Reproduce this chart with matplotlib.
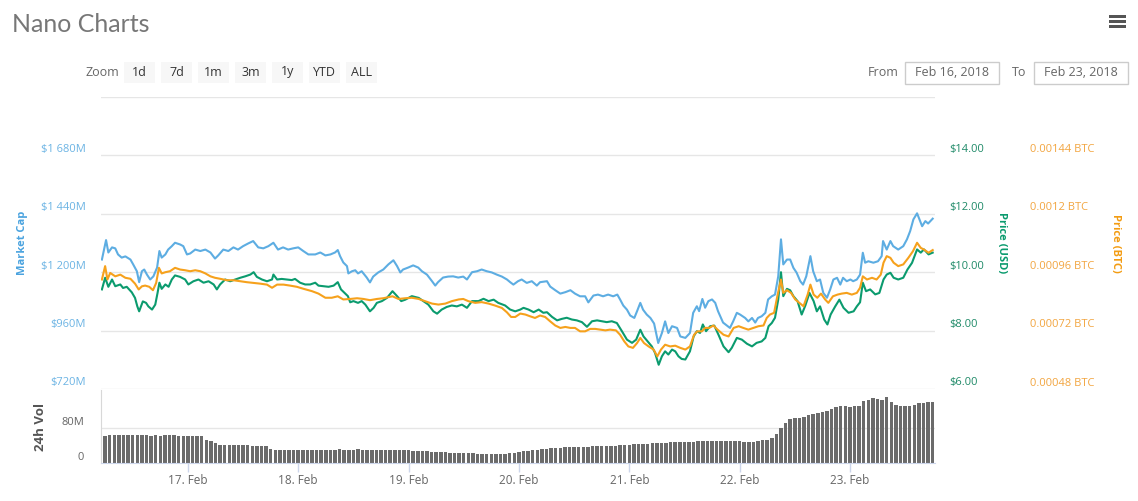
import matplotlib
matplotlib.use("Agg")
import matplotlib.pyplot as plt
from matplotlib.patches import Rectangle
from matplotlib.transforms import offset_copy
import numpy as np

plt.rcParams['font.family'] = ['Open Sans', 'DejaVu Sans']

# ---------------------------------------------------------------------------
# Data (hours since 2018-02-16 00:00)
# ---------------------------------------------------------------------------
MCAP = [  # market cap, $M
    (5.3, 1252), (6.2, 1332), (6.7, 1281), (7.5, 1302), (8.2, 1298), (8.8, 1273),
    (9.6, 1260), (10.4, 1265), (11.5, 1252), (12.1, 1232), (12.9, 1204), (13.4, 1159),
    (14.0, 1204), (14.5, 1211), (15.1, 1190), (15.8, 1170), (16.5, 1183), (17.3, 1219),
    (17.8, 1287), (18.3, 1260), (19.1, 1273), (19.7, 1293), (20.5, 1307), (21.2, 1321),
    (22.3, 1314), (23.0, 1307), (23.8, 1273), (24.5, 1277), (25.6, 1293), (26.7, 1287),
    (27.8, 1293), (28.9, 1281), (29.9, 1256), (30.6, 1269), (31.7, 1293), (32.8, 1287),
    (33.9, 1302), (34.9, 1293), (36.0, 1307), (37.1, 1318), (38.2, 1328), (39.3, 1302),
    (40.4, 1298), (41.5, 1307), (42.6, 1321), (43.6, 1293), (44.7, 1302), (45.8, 1293),
    (46.9, 1298), (48.0, 1302), (49.1, 1287), (50.2, 1273), (51.7, 1273), (52.8, 1281),
    (53.9, 1269), (55.0, 1273), (56.0, 1281), (56.6, 1291), (57.1, 1266), (57.8, 1240),
    (58.6, 1225), (58.9, 1195), (59.7, 1204), (60.4, 1208), (61.0, 1195), (61.8, 1204),
    (62.9, 1178), (63.6, 1158), (64.3, 1182), (65.4, 1199), (66.5, 1211), (67.6, 1232),
    (68.7, 1249), (69.5, 1225), (70.2, 1199), (70.8, 1211), (71.9, 1219), (73.0, 1228),
    (74.1, 1219), (74.9, 1204), (76.0, 1190), (77.1, 1163), (77.8, 1145), (78.4, 1159),
    (79.5, 1178), (80.6, 1182), (81.7, 1183), (82.8, 1178), (83.9, 1182), (84.7, 1170),
    (85.8, 1200), (86.9, 1204), (87.9, 1211), (89.0, 1204), (90.1, 1199), (91.2, 1190),
    (92.3, 1182), (93.4, 1170), (94.1, 1159), (94.8, 1149), (95.8, 1163), (96.6, 1170),
    (97.7, 1156), (98.8, 1163), (99.9, 1145), (100.6, 1159), (102.1, 1163), (102.8, 1141),
    (103.9, 1126), (105.0, 1112), (106.1, 1118), (107.2, 1126), (108.2, 1112), (109.3, 1101),
    (110.4, 1101), (111.1, 1076), (112.2, 1104), (113.2, 1108), (114.3, 1101), (115.4, 1108),
    (116.5, 1101), (117.4, 1108), (118.0, 1088), (118.7, 1063), (119.5, 1046), (120.2, 1022),
    (121.1, 1012), (121.7, 1040), (122.4, 1074), (123.0, 1046), (123.8, 1026), (124.6, 1012),
    (125.4, 989), (126.3, 909), (127.1, 950), (127.8, 998), (128.5, 950), (129.3, 978),
    (130.4, 971), (131.1, 936), (132.2, 930), (133.2, 950), (133.9, 1033), (134.7, 1060),
    (135.2, 1040), (135.9, 1090), (136.5, 1054), (137.2, 1081), (138.0, 1088), (138.7, 1074),
    (139.3, 1040), (140.4, 993), (141.2, 981), (141.9, 971), (142.6, 998), (143.4, 1033),
    (144.1, 1026), (145.2, 1012), (145.9, 998), (146.7, 1012), (147.4, 993), (148.0, 1012),
    (148.8, 1019), (149.6, 1033), (150.2, 1088), (151.0, 1101), (151.7, 1108), (152.4, 1183),
    (153.0, 1335), (153.5, 1232), (154.3, 1252), (155.0, 1252), (155.7, 1218), (156.4, 1198),
    (157.2, 1163), (157.8, 1149), (158.5, 1183), (159.4, 1266), (160.0, 1204), (160.8, 1163),
    (161.5, 1170), (162.2, 1115), (163.0, 1095), (163.7, 1129), (164.4, 1170), (165.2, 1177),
    (165.9, 1149), (166.5, 1177), (167.3, 1163), (168.1, 1170), (168.7, 1163), (169.5, 1170),
    (170.2, 1190), (170.8, 1280), (171.3, 1239), (172.0, 1245), (173.1, 1239), (174.1, 1245),
    (174.9, 1266), (175.2, 1328), (176.0, 1293), (176.8, 1328), (177.4, 1307), (178.5, 1293),
    (179.6, 1307), (180.4, 1335), (181.1, 1369), (181.8, 1417), (182.6, 1442), (183.7, 1389),
    (184.4, 1410), (185.0, 1400), (186.0, 1420),
]

PRICE_USD = [
    (5.3, 9.41), (6.0, 9.81), (6.7, 9.50), (7.5, 9.75), (8.2, 9.52), (9.3, 9.58), (9.9, 9.46),
    (10.7, 9.50), (11.8, 9.31), (12.5, 9.12), (13.0, 8.83), (13.4, 8.66), (14.2, 9.00),
    (14.9, 8.95), (15.4, 8.83), (16.2, 8.72), (16.9, 8.89), (17.4, 9.29), (17.8, 9.64),
    (18.3, 9.43), (19.1, 9.58), (19.8, 9.50), (20.5, 9.75), (21.2, 9.89), (22.3, 9.84),
    (23.4, 9.75), (24.1, 9.58), (25.2, 9.69), (26.3, 9.75), (27.4, 9.64), (28.5, 9.69),
    (29.6, 9.58), (30.3, 9.41), (31.0, 9.58), (32.1, 9.75), (33.2, 9.69), (34.3, 9.75),
    (35.4, 9.81), (36.5, 9.86), (37.6, 9.92), (38.3, 10.00), (39.0, 9.84), (40.1, 9.75),
    (41.2, 9.69), (42.3, 9.75), (42.6, 9.92), (43.4, 9.75), (44.4, 9.77), (45.5, 9.75),
    (46.6, 9.73), (47.3, 9.77), (48.4, 9.64), (49.5, 9.58), (50.6, 9.58), (51.7, 9.64),
    (52.4, 9.54), (53.5, 9.52), (54.6, 9.50), (55.7, 9.54), (56.6, 9.66), (57.3, 9.41),
    (58.1, 9.29), (58.8, 9.18), (59.3, 8.97), (60.0, 9.01), (61.0, 8.95), (61.8, 9.01),
    (62.6, 8.89), (63.6, 8.66), (64.4, 8.78), (65.1, 8.95), (66.2, 9.01), (67.3, 9.12),
    (68.5, 9.35), (69.5, 9.18), (70.4, 9.01), (71.3, 9.06), (72.7, 9.18), (74.2, 9.12),
    (75.2, 9.01), (76.3, 8.89), (77.4, 8.66), (78.2, 8.58), (79.2, 8.72), (80.3, 8.81),
    (81.4, 8.86), (82.5, 8.83), (83.6, 8.89), (84.7, 8.78), (85.8, 9.01), (87.2, 9.01),
    (88.3, 9.09), (89.4, 9.01), (90.5, 9.06), (91.5, 8.95), (93.0, 8.86), (94.1, 8.72),
    (95.2, 8.66), (96.3, 8.72), (97.0, 8.78), (98.1, 8.72), (99.2, 8.63), (100.3, 8.72),
    (101.3, 8.61), (102.1, 8.63), (103.2, 8.47), (104.3, 8.35), (105.3, 8.40), (106.4, 8.44),
    (107.5, 8.38), (108.6, 8.35), (109.7, 8.29), (110.8, 8.13), (111.9, 8.32), (113.0, 8.35),
    (114.0, 8.32), (115.1, 8.29), (116.2, 8.32), (117.3, 8.26), (118.4, 7.98), (119.5, 7.69),
    (120.6, 7.58), (121.5, 7.69), (122.4, 8.03), (123.1, 7.80), (124.0, 7.63), (124.9, 7.46),
    (125.6, 7.24), (126.4, 6.83), (127.1, 7.12), (127.8, 7.29), (128.5, 7.18), (129.3, 7.35),
    (130.0, 7.29), (130.7, 7.12), (131.4, 7.03), (132.2, 7.01), (133.2, 7.29), (134.0, 7.80),
    (134.7, 7.98), (135.4, 7.92), (136.0, 8.21), (136.7, 7.98), (137.6, 8.15), (138.5, 8.17),
    (139.4, 7.86), (140.5, 7.46), (141.6, 7.26), (142.3, 7.41), (143.4, 7.75), (144.5, 7.69),
    (145.6, 7.55), (146.7, 7.46), (147.7, 7.58), (148.8, 7.63), (149.6, 7.75), (150.3, 8.15),
    (151.0, 8.26), (151.7, 8.44), (152.4, 9.06), (153.0, 10.00), (153.5, 9.18), (154.3, 9.43),
    (155.0, 9.38), (155.7, 9.18), (156.6, 9.01), (157.5, 8.55), (158.3, 8.86), (159.2, 9.29),
    (160.1, 9.01), (160.8, 8.66), (161.5, 8.83), (162.4, 8.38), (163.1, 8.21), (163.8, 8.55),
    (164.8, 8.83), (165.7, 9.06), (166.6, 8.78), (167.7, 8.61), (168.8, 8.66), (169.5, 8.83),
    (170.2, 8.97), (170.8, 9.64), (171.5, 9.35), (172.4, 9.41), (173.5, 9.24), (174.4, 9.29),
    (175.3, 9.75), (176.0, 9.92), (176.8, 9.98), (177.5, 9.81), (178.5, 9.75), (179.6, 9.81),
    (180.5, 10.09), (181.5, 10.32), (182.6, 10.78), (183.4, 10.67), (184.1, 10.78),
    (185.1, 10.61), (186.0, 10.67),
]

PRICE_BTC = [
    (5.3, 0.000930), (6.0, 0.000985), (6.5, 0.000930), (7.1, 0.000957), (8.2, 0.000943),
    (9.3, 0.000950), (10.4, 0.000937), (11.5, 0.000933), (12.5, 0.000913), (13.3, 0.000889),
    (14.0, 0.000902), (14.7, 0.000905), (15.6, 0.000900), (16.4, 0.000886), (17.1, 0.000916),
    (17.7, 0.000978), (18.3, 0.000955), (19.1, 0.000960), (20.1, 0.000964), (21.2, 0.000978),
    (22.3, 0.000971), (23.4, 0.000968), (24.5, 0.000964), (25.6, 0.000968), (26.7, 0.000964),
    (27.8, 0.000955), (28.9, 0.000943), (29.9, 0.000937), (31.0, 0.000933), (32.5, 0.000927),
    (33.9, 0.000927), (35.4, 0.000923), (36.8, 0.000919), (38.3, 0.000916), (39.7, 0.000913),
    (41.2, 0.000909), (42.3, 0.000896), (43.4, 0.000909), (44.8, 0.000909), (46.2, 0.000905),
    (47.7, 0.000900), (49.1, 0.000892), (51.0, 0.000882), (52.4, 0.000872), (53.9, 0.000855),
    (55.3, 0.000855), (56.6, 0.000861), (57.8, 0.000848), (59.3, 0.000850), (60.8, 0.000853),
    (62.2, 0.000850), (63.6, 0.000845), (65.1, 0.000850), (66.5, 0.000853), (68.5, 0.000861),
    (69.8, 0.000850), (71.3, 0.000853), (72.7, 0.000855), (74.2, 0.000850), (75.6, 0.000841),
    (77.1, 0.000831), (78.5, 0.000827), (80.0, 0.000831), (81.4, 0.000841), (82.9, 0.000848),
    (83.9, 0.000850), (85.0, 0.000841), (86.5, 0.000834), (87.9, 0.000837), (89.4, 0.000831),
    (90.8, 0.000823), (92.3, 0.000813), (93.4, 0.000795), (94.3, 0.000776), (95.2, 0.000776),
    (96.3, 0.000790), (97.4, 0.000786), (98.4, 0.000779), (99.5, 0.000772), (100.6, 0.000782),
    (101.7, 0.000776), (102.8, 0.000758), (103.9, 0.000741), (105.0, 0.000731), (106.1, 0.000735),
    (107.2, 0.000731), (108.2, 0.000731), (109.3, 0.000717), (110.4, 0.000717), (111.5, 0.000727),
    (112.6, 0.000727), (113.7, 0.000724), (114.8, 0.000721), (115.8, 0.000724), (117.1, 0.000721),
    (118.0, 0.000703), (118.9, 0.000676), (119.8, 0.000655), (120.8, 0.000649), (121.7, 0.000669),
    (122.4, 0.000690), (123.2, 0.000669), (124.2, 0.000655), (125.3, 0.000642), (126.1, 0.000614),
    (126.9, 0.000642), (127.8, 0.000662), (128.9, 0.000655), (130.0, 0.000658), (131.1, 0.000649),
    (132.2, 0.000642), (133.2, 0.000655), (134.1, 0.000703), (134.8, 0.000717), (135.8, 0.000717),
    (136.5, 0.000731), (137.4, 0.000731), (138.3, 0.000741), (139.2, 0.000724), (140.5, 0.000703),
    (141.6, 0.000696), (142.7, 0.000731), (143.8, 0.000738), (144.8, 0.000731), (145.9, 0.000724),
    (147.0, 0.000731), (148.1, 0.000738), (149.2, 0.000741), (149.9, 0.000772), (150.6, 0.000786),
    (151.5, 0.000793), (152.2, 0.000861), (153.0, 0.000930), (153.5, 0.000875), (154.3, 0.000886),
    (155.2, 0.000875), (156.1, 0.000848), (157.0, 0.000834), (157.9, 0.000820), (158.8, 0.000868),
    (159.4, 0.000909), (160.1, 0.000868), (160.9, 0.000855), (161.7, 0.000872), (162.6, 0.000848),
    (163.3, 0.000834), (164.3, 0.000861), (165.3, 0.000868), (166.2, 0.000872), (167.3, 0.000875),
    (168.4, 0.000868), (169.5, 0.000875), (170.2, 0.000896), (170.8, 0.000943), (171.7, 0.000930),
    (172.8, 0.000937), (173.8, 0.000930), (174.7, 0.000950), (175.3, 0.000999), (176.0, 0.001026),
    (176.8, 0.001019), (177.5, 0.000999), (178.5, 0.000985), (179.6, 0.000992), (180.7, 0.001019),
    (181.7, 0.001046), (182.6, 0.001081), (183.4, 0.001060), (184.1, 0.001053), (185.1, 0.001040),
    (186.0, 0.001051),
]

# 24h volume ($M), one bar per hour from hour 5 to hour 186
VOL_START_HOUR = 5
VOLUME = [
    59, 62,
    64, 65, 65, 64, 64, 65, 63, 64, 63, 62, 63, 62, 63, 63, 63, 62, 62, 62, 61, 62, 61,
    52, 50, 46,
    42, 42, 41, 41, 41, 41, 41, 40, 40, 39, 38,
    31, 30, 30, 30, 30, 29, 30, 30, 30, 30, 29, 30, 30, 30, 30, 31, 30, 30, 30, 31, 30, 30,
    30, 30, 30, 30, 30, 30, 29,
    29, 29, 28, 28, 27, 27, 26, 26, 25, 25, 24, 24, 23, 23, 22, 22, 21, 21, 21, 20, 20, 21,
    20, 22, 24, 26,
    27, 28, 29, 30,
    32, 33, 34,
    35, 35, 36, 36, 36, 37, 37,
    37, 38, 38, 39, 39, 40, 40, 41, 41, 42, 43,
    43, 44, 44, 45, 45, 46, 46, 47, 47, 48, 48, 49, 49, 50,
    50, 50, 51, 51, 51, 51, 50, 50, 50, 49, 49,
    49, 50, 52, 53, 58,
    66, 80, 92, 100, 102, 103, 105, 109, 112, 114, 116, 119, 123, 127, 130, 130, 129, 130,
    131, 141, 145, 148, 147, 143, 152, 140, 133, 130, 130, 130, 132, 137, 138, 139, 140,
]

DAY_TICKS = [24, 48, 72, 96, 120, 144, 168]
DAY_LABELS = ['17. Feb', '18. Feb', '19. Feb', '20. Feb', '21. Feb', '22. Feb', '23. Feb']

MCAP_TICKS = [720, 960, 1200, 1440, 1680]
USD_TICKS = [6, 8, 10, 12, 14]
BTC_TICKS = [0.00048, 0.00072, 0.00096, 0.0012, 0.00144]
VOL_TICKS = [0, 80]
VOL_LABELS = ['0', '80M']

ZOOM_BUTTONS = ['1d', '7d', '1m', '3m', '1y', 'YTD', 'ALL']
DATE_FROM = 'Feb 16, 2018'
DATE_TO = 'Feb 23, 2018'

# ---------------------------------------------------------------------------
# Style
# ---------------------------------------------------------------------------
W, H = 1138, 501
BLUE = '#5dade2'
GREEN = '#0b9b6e'
ORANGE = '#f6a11c'
GRID = '#e6e6e6'
XMIN, XMAX = 5.1, 186.5


def fx(x):
    return x / W


def fy(y):
    return 1 - y / H


fig = plt.figure(figsize=(W / 100, H / 100), dpi=100)

# ---------------------------------------------------------------------------
# Price panel
# ---------------------------------------------------------------------------
ax = fig.add_axes([fx(101), fy(389), fx(935) - fx(101), fy(97) - fy(389)])
ax_usd = ax.twinx()
ax_btc = ax.twinx()

ax.set_ylim(720, 1920)
ax_usd.set_ylim(6, 16)
ax_btc.set_ylim(0.00048, 0.00168)

for a in (ax, ax_usd, ax_btc):
    a.set_xlim(XMIN, XMAX)
    for s in a.spines.values():
        s.set_visible(False)
    a.set_xticks([])
    a.set_yticks([])

for v in MCAP_TICKS + [1920]:
    ax.axhline(v, color=GRID, lw=1, zorder=0)

mh, mv = zip(*MCAP)
uh, uv = zip(*PRICE_USD)
bh, bv = zip(*PRICE_BTC)
ax.plot(mh, mv, color=BLUE, lw=1.5, solid_joinstyle='round')
ax_usd.plot(uh, uv, color=GREEN, lw=1.5, solid_joinstyle='round')
ax_btc.plot(bh, bv, color=ORANGE, lw=1.5, solid_joinstyle='round')

tick_kw = dict(fontsize=8, va='center')
tr = offset_copy(ax.get_yaxis_transform(), fig=fig, x=-15, y=6, units='dots')
for v in MCAP_TICKS:
    ax.text(0, v, f"${v:,}M".replace(',', ' '), transform=tr, ha='right',
            color='#6cb4e4', **tick_kw)
tr = offset_copy(ax_usd.get_yaxis_transform(), fig=fig, x=14, y=6, units='dots')
for v in USD_TICKS:
    ax_usd.text(1, v, f"${v:.2f}", transform=tr, ha='left', color='#1f8a68', **tick_kw)
tr = offset_copy(ax_btc.get_yaxis_transform(), fig=fig, x=95, y=6, units='dots')
for v in BTC_TICKS:
    ax_btc.text(1, v, f"{v:g} BTC", transform=tr, ha='left', color='#f2a540', **tick_kw)

fig.text(fx(22), fy(243), 'Market Cap', rotation=90, ha='center', va='center',
         fontsize=8, fontweight='bold', color='#4aa3df')
fig.text(fx(1002), fy(243), 'Price (USD)', rotation=270, ha='center', va='center',
         fontsize=8, fontweight='bold', color=GREEN)
fig.text(fx(1115), fy(243), 'Price (BTC)', rotation=270, ha='center', va='center',
         fontsize=8, fontweight='bold', color='#f39c12')

# ---------------------------------------------------------------------------
# Volume panel
# ---------------------------------------------------------------------------
av = fig.add_axes([fx(101), fy(463), fx(935) - fx(101), fy(390) - fy(463)])
vol_hours = np.arange(VOL_START_HOUR, VOL_START_HOUR + len(VOLUME))
av.bar(vol_hours, VOLUME, width=0.76, color='#6b6b6b', zorder=2)
av.set_xlim(XMIN, XMAX)
av.set_ylim(0, 167)
av.axhline(80, color=GRID, lw=1, zorder=0)
for s in ('top', 'right'):
    av.spines[s].set_visible(False)
av.spines['bottom'].set_color('#ccd6eb')
av.spines['left'].set_color('#d8d8d8')
av.set_yticks([])
av.set_xticks(DAY_TICKS)
av.set_xticklabels(DAY_LABELS)
av.tick_params(axis='x', length=6.8, width=1, color='#ccd6eb', labelcolor='#666666',
               labelsize=8.5, pad=1)

tr = offset_copy(av.get_yaxis_transform(), fig=fig, x=-17, y=6, units='dots')
for v, lab in zip(VOL_TICKS, VOL_LABELS):
    av.text(0, v, lab, transform=tr, ha='right', va='center', fontsize=8, color='#666666')
fig.text(fx(40), fy(427), '24h Vol', rotation=90, ha='center', va='center',
         fontsize=9.5, fontweight='bold', color='#555555')

# ---------------------------------------------------------------------------
# Header: title, menu icon, zoom buttons, date range
# ---------------------------------------------------------------------------
fig.text(fx(12), fy(32), 'Nano Charts', fontsize=18, color='#777777',
         family=['Lato', 'DejaVu Sans'], va='baseline', ha='left')

for yy in (15, 20, 25):
    fig.add_artist(Rectangle((fx(1109), fy(yy + 3)), fx(17), 3 / H,
                             transform=fig.transFigure, facecolor='#555555',
                             edgecolor='none'))

fig.text(fx(102), fy(72), 'Zoom', fontsize=9, color='#666666', ha='center', va='center')
for i, lab in enumerate(ZOOM_BUTTONS):
    x0 = 124 + i * 37
    fig.add_artist(Rectangle((fx(x0), fy(83)), fx(31), 21 / H, transform=fig.transFigure,
                             facecolor='#f7f7f7', edgecolor='none'))
    fig.text(fx(x0 + 15.5), fy(72), lab, fontsize=9, color='#333333',
             ha='center', va='center')

fig.text(fx(883), fy(72), 'From', fontsize=9, color='#666666', ha='center', va='center')
fig.text(fx(1019), fy(72), 'To', fontsize=9, color='#666666', ha='center', va='center')
for x0, lab in ((905, DATE_FROM), (1034, DATE_TO)):
    fig.add_artist(Rectangle((fx(x0), fy(84)), fx(94), 22 / H, transform=fig.transFigure,
                             facecolor='white', edgecolor='#cccccc', lw=1))
    fig.text(fx(x0 + 47), fy(72), lab, fontsize=9, color='#666666',
             ha='center', va='center')

fig.savefig('out.png', dpi=100)
